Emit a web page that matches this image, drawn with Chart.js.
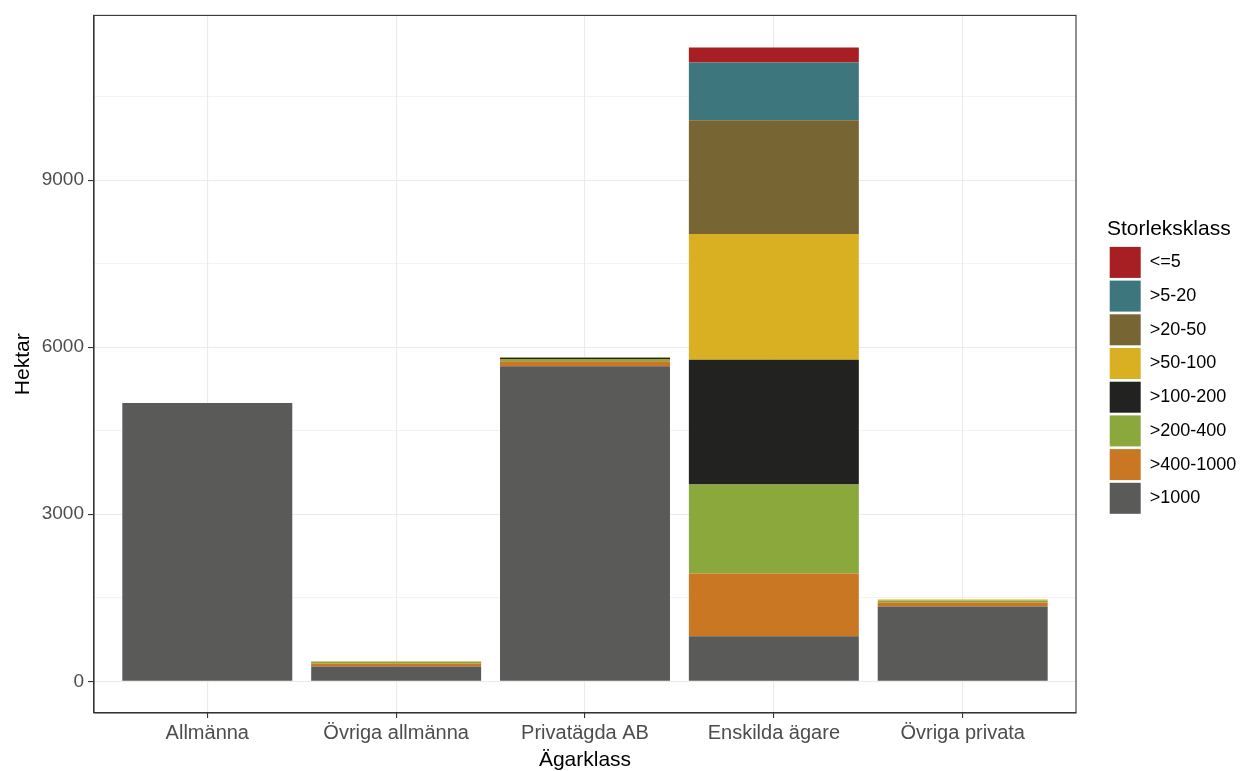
<!DOCTYPE html>
<html>
<head>
<meta charset="utf-8">
<script src="https://cdn.jsdelivr.net/npm/chart.js@4.4.1/dist/chart.umd.min.js"></script>
<style>
  html, body { margin: 0; padding: 0; background: #ffffff; }
  #wrap { width: 1243px; height: 771px; position: relative; }
</style>
</head>
<body>
<div id="wrap"><canvas id="chart-owner-size"></canvas></div>
<script>
// Owner class on the x axis, size class stacked in the bars
var categories = ["Allmänna", "Övriga allmänna", "Privatägda AB", "Enskilda ägare", "Övriga privata"];
var sizeClasses = [">1000", ">400-1000", ">200-400", ">100-200", ">50-100", ">20-50", ">5-20", "<=5"];
var sizeColors  = ["#5a5a58", "#c97723", "#8aa83b", "#222221", "#d9b022", "#786534", "#3d777d", "#a81f23"];

// Hectares per size class, one value per owner class
var over1000   = [5000, 265, 5660,  807, 1345];
var s400to1000 = [   0,  55,   90, 1130,   70];
var s200to400  = [   0,  30,   40, 1596,   35];
var s100to200  = [   0,   0,   15, 2241,    0];
var s50to100   = [   0,   8,    5, 2259,   20];
var s20to50    = [   0,   0,    5, 2043,    0];
var s5to20     = [   0,   0,   10, 1040,    0];
var upTo5      = [   0,   0,    0,  269,    0];

var seriesValues = [over1000, s400to1000, s200to400, s100to200, s50to100, s20to50, s5to20, upTo5];

var yTicks = [0, 1500, 3000, 4500, 6000, 7500, 9000, 10500];
var yMajorStep = 3000;

Chart.defaults.font.family = "'Liberation Sans', Arial, sans-serif";

var chart;

function buildDatasets()
{
  var sets = [];
  for (var k = 0; k < sizeClasses.length; k++)
  {
    var vals = seriesValues[k];
    sets.push({
      label: sizeClasses[k],
      data: vals.map(function(v, i) { return { x: i + 1, y: v }; }),
      backgroundColor: sizeColors[k],
      borderWidth: 0,
      barPercentage: 0.9,
      categoryPercentage: 1.0
    });
  }
  return sets;
}

// ggplot-like panel border around the plotting area
var panelBorder = {
  id: 'panelBorder',
  afterDatasetsDraw: function(c) {
    var a = c.chartArea;
    var ctx = c.ctx;
    ctx.save();
    ctx.strokeStyle = '#333333';
    ctx.lineWidth = 1.1;
    ctx.strokeRect(a.left, a.top, a.right - a.left, a.bottom - a.top);
    ctx.restore();
  }
};

// fixed width legend column, keys pushed a bit right of the panel
var legendFix = {
  id: 'legendFix',
  beforeLayout: function(c) {
    var lg = c.legend;
    if (lg && !lg._fixed) {
      var fit = lg.fit;
      lg.fit = function() { fit.call(this); this.width = 167; };
      lg._fixed = true;
    }
  },
  afterLayout: function(c) {
    if (c.legend) c.legend.left += 31;
  }
};

function initChart()
{
  var ctx = document.getElementById("chart-owner-size").getContext("2d");
  chart = new Chart(ctx, {
    type: "bar",
    data: { datasets: buildDatasets() },
    plugins: [panelBorder, legendFix],
    options: {
      animation: false,
      responsive: true,
      maintainAspectRatio: false,
      layout: { padding: { top: 14, left: 0, right: 0, bottom: 0 } },
      plugins: {
        tooltip: { enabled: false },
        legend: {
          position: 'right',
          align: 'start',
          reverse: true,
          title: {
            display: true,
            text: 'Storleksklass',
            position: 'start',
            color: '#000000',
            font: { size: 21 },
            padding: { top: 205, bottom: 0 }
          },
          labels: {
            boxWidth: 31,
            boxHeight: 31,
            padding: 2.7,
            color: '#000000',
            font: { size: 18 }
          }
        }
      },
      scales: {
        x: {
          type: 'linear',
          stacked: true,
          offset: false,
          min: 0.4,
          max: 5.6,
          afterBuildTicks: function(s) {
            s.ticks = categories.map(function(c, i) { return { value: i + 1 }; });
          },
          afterFit: function(s) { s.height = 58; },
          ticks: {
            autoSkip: false,
            maxRotation: 0,
            padding: 3,
            color: '#4d4d4d',
            font: { size: 20 },
            callback: function(v) { return categories[v - 1]; }
          },
          grid: {
            offset: false,
            color: '#ebebeb',
            lineWidth: 1.1,
            tickLength: 5,
            tickColor: '#333333',
            tickWidth: 1.1
          },
          border: { color: '#333333', width: 1.1 },
          title: {
            display: true,
            text: 'Ägarklass',
            color: '#000000',
            font: { size: 21, lineHeight: 1.0 },
            padding: { top: 0, bottom: 0 }
          }
        },
        y: {
          stacked: true,
          min: -570,
          max: 11960,
          afterBuildTicks: function(s) {
            s.ticks = yTicks.map(function(v) { return { value: v }; });
          },
          afterFit: function(s) { s.width = 94; },
          ticks: {
            padding: 4,
            color: '#4d4d4d',
            font: { size: 19 },
            callback: function(v) { return v % yMajorStep === 0 ? String(v) : ''; }
          },
          grid: {
            color: '#ebebeb',
            lineWidth: function(c) { return c.tick && c.tick.value % yMajorStep === 0 ? 1.1 : 0.6; },
            tickLength: 6,
            tickColor: function(c) { return c.tick && c.tick.value % yMajorStep === 0 ? '#333333' : 'rgba(0,0,0,0)'; },
            tickWidth: 1.1
          },
          border: { color: '#333333', width: 1.1 },
          title: {
            display: true,
            text: 'Hektar',
            color: '#000000',
            font: { size: 21 },
            padding: { top: 11, bottom: 0 }
          }
        }
      }
    }
  });
}

initChart();
</script>
</body>
</html>
